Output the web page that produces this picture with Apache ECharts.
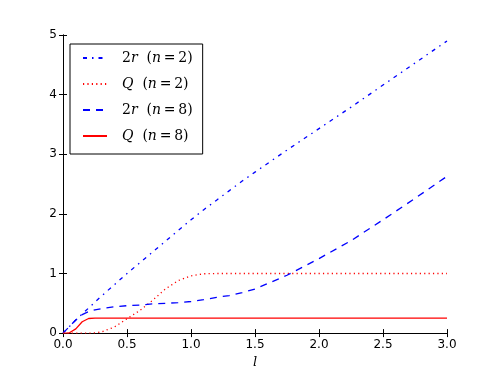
<!DOCTYPE html>
<html><head><meta charset="utf-8">
<script src="https://cdn.jsdelivr.net/npm/echarts@6/dist/echarts.min.js"></script>
<style>html,body{margin:0;padding:0;background:#fff}#c{width:498px;height:374px}</style>
</head><body><div id="c"></div>
<script>
const lGrid = [0, 0.05, 0.1, 0.15, 0.2, 0.25, 0.3, 0.4, 0.5, 0.6, 0.7, 0.8, 0.9, 1.0, 1.1, 1.2, 1.3, 1.4, 1.5, 1.75, 2.0, 2.25, 2.5, 2.75, 3.0];
const r2n2 = [0, 0.11, 0.22, 0.32, 0.42, 0.52, 0.62, 0.81, 1.0, 1.18, 1.36, 1.54, 1.72, 1.9, 2.07, 2.23, 2.39, 2.55, 2.7, 3.07, 3.43, 3.79, 4.16, 4.53, 4.9];
const qn2 = [0, 0, 0, 0, 0, 0.003, 0.02, 0.1, 0.24, 0.38, 0.55, 0.74, 0.88, 0.96, 0.995, 1, 1, 1, 1, 1, 1, 1, 1, 1, 1];
const r2n8 = [0, 0.11, 0.22, 0.31, 0.36, 0.39, 0.41, 0.44, 0.46, 0.47, 0.49, 0.5, 0.51, 0.53, 0.56, 0.6, 0.63, 0.68, 0.74, 0.97, 1.25, 1.55, 1.9, 2.26, 2.63];
const qn8 = [0, 0.005, 0.07, 0.19, 0.245, 0.25, 0.25, 0.25, 0.25, 0.25, 0.25, 0.25, 0.25, 0.25, 0.25, 0.25, 0.25, 0.25, 0.25, 0.25, 0.25, 0.25, 0.25, 0.25, 0.25];
const seriesNames = ['2r (n=2)', 'Q (n=2)', '2r (n=8)', 'Q (n=8)'];
const legendRich = {
  '2r (n=2)': '{u|2}{i|r}{u|  (}{i|n}{u|\u2009=\u20092)}',
  'Q (n=2)': '{i|Q}{u|  (}{i|n}{u|\u2009=\u20092)}',
  '2r (n=8)': '{u|2}{i|r}{u|  (}{i|n}{u|\u2009=\u20098)}',
  'Q (n=8)': '{i|Q}{u|  (}{i|n}{u|\u2009=\u20098)}'
};

const pair = ys => lGrid.map((l, i) => [l, ys[i]]);
const chart = echarts.init(document.getElementById('c'), null, {renderer: 'canvas'});
const fontTick = {fontFamily: 'DejaVu Sans', fontSize: 12, color: '#000'};
const axisCommon = {
  axisLine: {show: true, lineStyle: {color: '#000', width: 1}},
  axisTick: {show: true, inside: true, length: 4, lineStyle: {color: '#000'}},
  splitLine: {show: false}
};
const mk = (name, ys, color, type) => ({
  name, type: 'line', data: pair(ys), symbol: 'none', smooth: false,
  lineStyle: {color, width: 1.3, type}, itemStyle: {color}, z: 3
});
chart.setOption({
  animation: false,
  grid: {left: 63, right: 51, top: 35, bottom: 39},
  xAxis: [
    Object.assign({type: 'value', min: 0, max: 3, interval: 0.5, position: 'bottom',
      axisLabel: Object.assign({margin: 6, formatter: v => v.toFixed(1)}, fontTick),
      name: 'l', nameLocation: 'middle', nameGap: 21,
      nameTextStyle: {fontFamily: 'DejaVu Serif', fontStyle: 'italic', fontSize: 13, color: '#000'}}, axisCommon),
    Object.assign({type: 'value', min: 0, max: 3, interval: 0.5, position: 'top', axisLabel: {show: false}}, axisCommon)
  ],
  yAxis: [
    Object.assign({type: 'value', min: 0, max: 5, interval: 1, position: 'left',
      axisLabel: Object.assign({margin: 6}, fontTick)}, axisCommon),
    Object.assign({type: 'value', min: 0, max: 5, interval: 1, position: 'right', axisLabel: {show: false}}, axisCommon)
  ],
  legend: {
    orient: 'vertical', left: 70, top: 44,
    data: seriesNames,
    backgroundColor: '#fff', borderColor: '#000', borderWidth: 1, borderRadius: 0,
    padding: [7, 10, 11, 12], itemGap: 12, itemWidth: 24, itemHeight: 14,
    itemStyle: {opacity: 0},
    formatter: n => legendRich[n],
    textStyle: {
      padding: [0, 0, 0, 10],
      rich: {
        u: {fontFamily: 'DejaVu Serif', fontSize: 14, color: '#000'},
        i: {fontFamily: 'DejaVu Serif', fontStyle: 'italic', fontSize: 14, color: '#000'}
      }
    }
  },
  series: [
    mk(seriesNames[0], r2n2, '#0000ff', [4, 5, 1.5, 5]),
    mk(seriesNames[1], qn2, '#ff0000', [1.2, 3.2]),
    mk(seriesNames[2], r2n8, '#0000ff', [7, 6]),
    mk(seriesNames[3], qn8, '#ff0000', 'solid')
  ]
});
</script></body></html>
